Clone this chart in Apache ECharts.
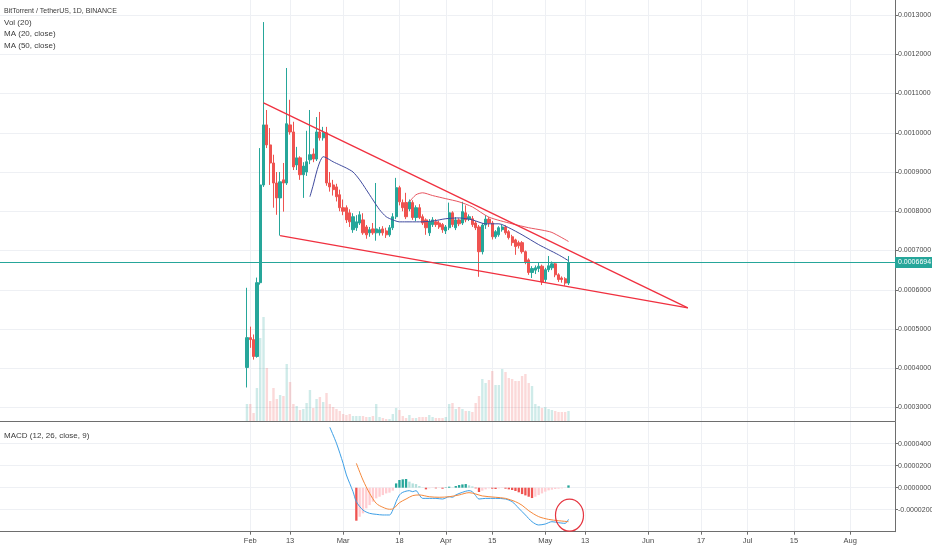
<!DOCTYPE html>
<html><head><meta charset="utf-8">
<script src="https://cdn.jsdelivr.net/npm/echarts@6/dist/echarts.min.js"></script>
<style>html,body{margin:0;padding:0;background:#fff}#c{width:932px;height:550px}</style>
</head><body><div id="c"></div>
<script>
// ---------- DATA ----------
const axisStart = '2018-11-18';
const axisEnd = '2019-08-14';
const candleStart = '2019-01-31';            // day 0 of the daily arrays
const tickDates  = ['2019-02-01','2019-02-13','2019-03-01','2019-03-18','2019-04-01','2019-04-15','2019-05-01','2019-05-13','2019-06-01','2019-06-17','2019-07-01','2019-07-15','2019-08-01'];
const tickLabels = ['Feb','13','Mar','18','Apr','15','May','13','Jun','17','Jul','15','Aug'];

// prices in units of 0.000001 USDT
const open = [402,478,473,430,618,867,1020,969,923,872, 834,880,872,1020,1002,918,936,893,900,931,
  946,933,1002,987,1000,872,867,862,842,809, 809,796,753,758,770,778,760,745,755,745,
  745,755,750,740,758,786,860,822,822,806, 822,784,809,786,778,745,766,773,770,766,
  750,758,796,758,778,770,796,780,781,770, 760,697,765,780,770,735,740,753,760,748,
  735,727,720,720,697,676,644,650,654,660, 626,651,656,666,638,630,628,617];
const close = [478,473,430,618,867,1020,969,923,872,834, 875,872,1023,1002,913,936,893,915,926,944,
  933,1002,987,1000,872,862,855,837,809,800, 778,773,786,773,791,745,740,753,745,755,
  753,745,740,758,786,860,824,809,786,824, 784,809,784,770,758,773,778,766,760,753,
  760,796,766,778,768,799,778,786,766,758, 697,765,780,770,735,748,758,760,745,733,
  720,710,712,697,671,644,654,656,660,620, 651,661,666,638,626,626,617,669.4];
const low = [351,452,422,427,613,862,961,867,809,791, 738,799,867,995,905,905,880,834,890,920,
  925,928,980,980,865,850,840,825,800,790, 770,760,745,750,765,740,730,735,740,725,
  738,738,732,735,752,780,815,800,780,800, 778,775,780,765,740,737,760,760,755,745,
  742,752,760,752,762,765,772,775,760,752, 633,690,755,760,728,730,735,748,740,728,
  712,689,705,692,665,638,630,640,645,612, 618,645,650,632,620,618,610,612];
const high = [605,506,486,631,961,1282,1058,1012,944,900, 900,923,1165,1084,1028,964,940,925,1005,1058,
  960,1040,1053,1015,1015,900,880,870,855,830, 815,805,795,790,800,795,765,760,770,872,
  760,762,758,765,795,885,865,830,847,830, 828,815,818,792,782,780,785,780,776,770,
  765,822,800,785,782,824,815,792,788,775, 765,770,790,785,775,752,762,766,764,752,
  740,730,725,724,700,680,660,662,668,664, 656,686,672,670,642,634,632,686];
const volume = [17,17,8,33,83,104,53,20,33,22, 26,25,57,39,17,15,11,12,18,31,
  13,22,24,19,28,17,14,12,10,7, 6,7,5,5,5,5,4,4,5,17,
  4,3,2,2,7,13,11,5,3,6, 3,3,4,4,4,6,4,3,3,3,
  4,17,18,12,14,12,10,10,9,18, 25,42,38,41,50,36,36,52,49,43,
  42,40,40,45,47,38,35,17,15,13, 14,12,11,10,9,9,9,10];
const lastPrice = 669.4;

const ma20Days = [19,20,21,22,23,24,26,28,30,32,34,36,38,40,42,44,46,48,52,56,60,64,68,72,76,79,83,88,91,94,97];
const ma20Vals = [837,867,900,926,939,936,926,918,910,900,880,855,829,804,786,778,773,773,773,775,781,783,778,768,768,758,740,715,702,689,674];
const ma50Days = [49,51,53,56,60,64,68,73,80,85,89,92,97];
const ma50Vals = [824,842,847,840,832,824,811,785,768,758,752,746,723];

const upperTrendDays = [5,133];
const upperTrendVals = [1076,554];
const lowerTrendDays = [10,133];
const lowerTrendVals = [738,554];

// MACD values in units of 0.000001
const macdDays = [25,27,29,30,32,33,35,37,39,41,43,44,45,46,47,49,50,51,52,53,55,57,59,61,62,63,65,67,68,69,70,72,75,78,80,82,84,86,88,90,92,94,96,97];
const macdVals = [54.9,40.4,22.2,11.6,-3.6,-12.7,-20.3,-23.3,-24.2,-24.8,-24.8,-20.3,-12.7,-6.6,-4.2,-2.7,-3.6,-2.7,-6.6,-9.7,-9.7,-9.7,-10.3,-8.2,-8.7,-6.6,-4.2,-2.7,-3.6,-7.2,-10.3,-9.7,-9.7,-10.3,-12.7,-18.7,-24.8,-30.9,-33.9,-33,-30.9,-31.8,-32.4,-28.8];
const signalDays = [33,35,37,39,41,43,44,46,48,50,52,55,58,61,64,67,69,71,75,78,81,83,85,88,91,94,97];
const signalVals = [22.2,7,-5.1,-14.2,-17.8,-19.6,-19.3,-13.6,-10.3,-7.2,-6.6,-8.2,-8.7,-8.2,-6.6,-4.5,-5.7,-7.5,-8.7,-9.7,-12.7,-16,-20.9,-26.3,-28.8,-30,-30.9];
const histStartDay = 33;
const histVals = [-30,-26.4,-23.3,-18.8,-15.8,-12.7,-9.7,-8.2,-6.7,-5.2,
  -4.5,-2.7,3.9,7,7.6,7.9,5.5,3.9,3.3,1.5,
  0.3,-1.5,-0.6,-0.3,-0.6,-0.3,-0.9,0.3,0.9,0.2,
  1.5,2.4,3,3.3,2.1,1.2,-0.6,-3.9,-2.7,-1.5,
  -0.6,-0.9,-1.2,-0.6,-0.3,-0.9,-1.5,-2.1,-3,-4.2,
  -5.8,-7,-8.2,-9.4,-8.2,-6.7,-5.2,-3.6,-2.4,-1.8,
  -1.2,-0.9,-0.6,-0.3,2.1];
const circleDay = 97, circleVal = -25;

// ---------- BUILD ----------
const fmtDate = d => d.toISOString().slice(0,10);
const categories = [];
for (let t = new Date(axisStart+'T00:00:00Z'); fmtDate(t) <= axisEnd; t.setUTCDate(t.getUTCDate()+1)) categories.push(fmtDate(t));
const base = categories.indexOf(candleStart);
const dayCat = d => categories[base + d];
const tickMap = {}; tickDates.forEach((d,i)=> tickMap[d] = tickLabels[i]);
const isTick = (idx, val) => Object.prototype.hasOwnProperty.call(tickMap, val);
const pairs = (days, vals) => days.map((d,i)=>[dayCat(d), vals[i]]);
const fmtPrice = v => (v/1e6).toFixed(7);

const UP='#26a69a', DOWN='#ef5350';
const GRID='#eef0f4', AXIS='#6e6e6e', TXT='#4a4a4a';
const FONT = "'Liberation Sans Narrow','Liberation Sans',Arial,sans-serif";

const candleData = open.map((o,i)=>[dayCat(i), o, close[i], low[i], high[i]]);
const volData = volume.map((v,i)=>({value:[dayCat(i), v], itemStyle:{color: close[i]>=open[i] ? 'rgba(38,166,154,0.22)' : 'rgba(239,83,80,0.22)'}}));
const histData = histVals.map((v,i)=>{
  const prev = i>0 ? histVals[i-1] : 0;
  let c;
  if (v >= 0) c = (v >= prev) ? '#26a69a' : '#b2dfdb';
  else c = (v < prev) ? '#ef5350' : '#ffcdd2';
  return {value:[dayCat(histStartDay+i), v], itemStyle:{color:c}};
});

const xBase = {type:'category', data:categories, boundaryGap:true};
const W_RIGHT = 37;
const gridBase = {left:0, right:W_RIGHT, containLabel:false, outerBoundsMode:'none'};

const chart = echarts.init(document.getElementById('c'), null, {renderer:'canvas'});
const option = {
  animation:false,
  backgroundColor:'#ffffff',
  textStyle:{fontFamily:FONT},
  grid:[
    {...gridBase, top:15, height:392.5},
    {...gridBase, top:0, height:421},
    {...gridBase, top:421.7, height:110}
  ],
  xAxis:[
    {...xBase, gridIndex:0, show:false},
    {...xBase, gridIndex:1, axisLine:{show:true, onZero:false, lineStyle:{color:AXIS, width:1}}, axisTick:{show:false}, axisLabel:{show:false},
      splitLine:{show:true, interval:isTick, alignWithLabel:true, lineStyle:{color:GRID}}},
    {...xBase, gridIndex:2, axisLine:{show:true, onZero:false, lineStyle:{color:AXIS, width:1}},
      axisTick:{show:true, interval:isTick, alignWithLabel:true, length:3, lineStyle:{color:AXIS}},
      axisLabel:{show:true, interval:isTick, formatter:v=>tickMap[v]||'', fontSize:7.5, color:TXT, margin:5, fontFamily:FONT},
      splitLine:{show:true, interval:isTick, alignWithLabel:true, lineStyle:{color:GRID}}}
  ],
  yAxis:[
    {type:'value', gridIndex:0, position:'right', min:300, max:1300, interval:100,
      axisLine:{show:false, onZero:false}, axisTick:{show:true, length:3, lineStyle:{color:AXIS}},
      axisLabel:{formatter:fmtPrice, fontSize:7, color:TXT, margin:3, fontFamily:FONT},
      splitLine:{show:true, lineStyle:{color:GRID}}},
    {type:'value', gridIndex:1, position:'right', min:0, max:421,
      axisLine:{show:true, onZero:false, lineStyle:{color:AXIS}}, axisTick:{show:false}, axisLabel:{show:false}, splitLine:{show:false}},
    {type:'value', gridIndex:2, position:'right', min:-40, max:60, interval:20,
      axisLine:{show:true, onZero:false, lineStyle:{color:AXIS}}, axisTick:{show:true, length:3, lineStyle:{color:AXIS}},
      axisLabel:{formatter:fmtPrice, fontSize:7, color:TXT, margin:3, showMinLabel:false, showMaxLabel:false, fontFamily:FONT},
      splitLine:{show:true, lineStyle:{color:GRID}}}
  ],
  series:[
    {name:'Vol', type:'bar', xAxisIndex:1, yAxisIndex:1, data:volData, barWidth:'72%', z:1},
    {name:'Price', type:'candlestick', xAxisIndex:0, yAxisIndex:0, data:candleData, encode:{x:0, y:[1,2,3,4]},
      barWidth:'82%', z:3,
      itemStyle:{color:UP, color0:DOWN, borderColor:UP, borderColor0:DOWN, borderWidth:1}},
    {name:'MA20', type:'line', xAxisIndex:0, yAxisIndex:0, data:pairs(ma20Days, ma20Vals), symbol:'none', smooth:0.25,
      lineStyle:{color:'#3f4a9e', width:1}, z:4,
      markLine:{silent:true, symbol:['none','none'], data:[{yAxis:lastPrice}],
        lineStyle:{color:UP, width:1, type:'solid'},
        label:{show:true, position:'end', formatter:()=>fmtPrice(lastPrice), backgroundColor:UP, color:'#fff',
          fontSize:7, padding:[2,2,2,3], distance:0, fontFamily:FONT}}},
    {name:'MA50', type:'line', xAxisIndex:0, yAxisIndex:0, data:pairs(ma50Days, ma50Vals), symbol:'none', smooth:0.25,
      lineStyle:{color:'#e85560', width:1}, z:4},
    {name:'Upper', type:'line', xAxisIndex:0, yAxisIndex:0, data:pairs(upperTrendDays, upperTrendVals), symbol:'none',
      lineStyle:{color:'#f0303f', width:1.3}, z:5},
    {name:'Lower', type:'line', xAxisIndex:0, yAxisIndex:0, data:pairs(lowerTrendDays, lowerTrendVals), symbol:'none',
      lineStyle:{color:'#f0303f', width:1.3}, z:5},
    {name:'Hist', type:'bar', xAxisIndex:2, yAxisIndex:2, data:histData, barWidth:'70%', z:2},
    {name:'MACD', type:'line', xAxisIndex:2, yAxisIndex:2, data:pairs(macdDays, macdVals), symbol:'none', smooth:0.3,
      lineStyle:{color:'#3d9fe6', width:1}, z:4},
    {name:'Signal', type:'line', xAxisIndex:2, yAxisIndex:2, data:pairs(signalDays, signalVals), symbol:'none', smooth:0.3,
      lineStyle:{color:'#f5883b', width:1}, z:4}
  ]
};
chart.setOption(option);

const c = chart.convertToPixel({xAxisIndex:2, yAxisIndex:2}, [dayCat(circleDay), circleVal]);
const txt = (id, s, x, y, size) => ({id, type:'text', left:x, top:y, z:10,
  style:{text:s, fill:'#3a3a3a', fontSize:size, fontFamily:FONT}});
chart.setOption({graphic:[
  txt('t0','BitTorrent / TetherUS, 1D, BINANCE',4,8,7),
  txt('t1','Vol (20)',4,19,8),
  txt('t2','MA (20, close)',4,30,8),
  txt('t3','MA (50, close)',4,42,8),
  txt('t4','MACD (12, 26, close, 9)',4,432,8),
  {id:'circle', type:'ellipse', z:10, shape:{cx:c[0]+1, cy:c[1], rx:14, ry:16},
    style:{fill:'none', stroke:'#e5343f', lineWidth:1.2}}
]});
</script>
</body></html>
